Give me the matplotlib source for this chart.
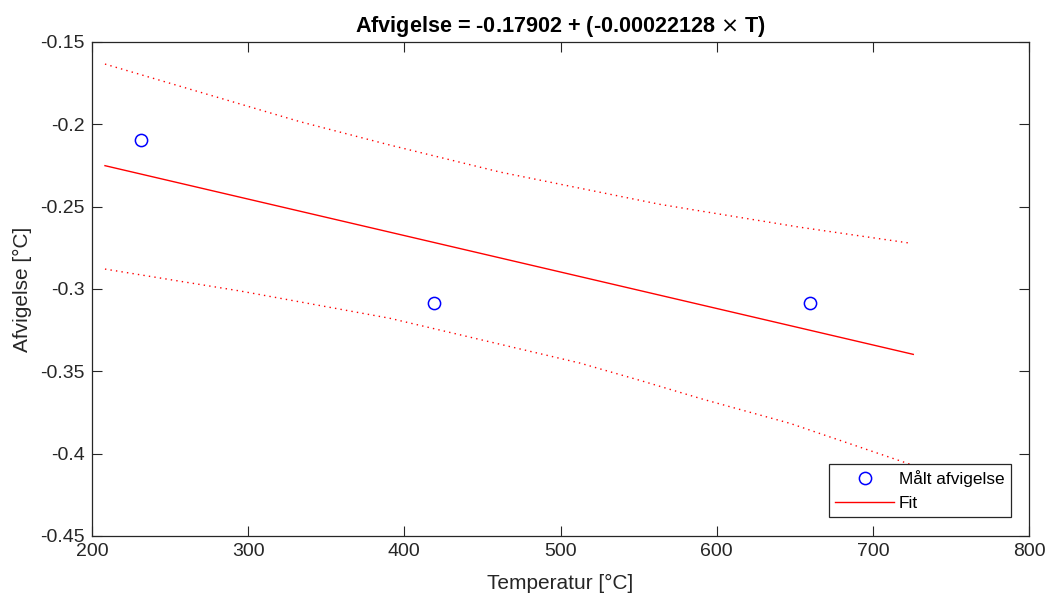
import matplotlib
matplotlib.use('Agg')
import matplotlib.pyplot as plt

# measured points
temp = [231.4, 419.0, 659.8]
afv = [-0.2097, -0.3083, -0.3087]

# fit line (endpoints)
fit_t = [208.3, 725.9]
fit_y = [-0.2251, -0.3397]

# prediction bounds
up_t = [208.3, 333.2, 390.8, 461.3, 563.7, 653.4, 724.9]
up_y = [-0.1634, -0.1984, -0.2126, -0.2290, -0.2486, -0.2625, -0.2723]
lo_t = [208.3, 294.8, 390.8, 512.5, 552.0, 591.4, 647.0, 725.0]
lo_y = [-0.2879, -0.3012, -0.3178, -0.3450, -0.3558, -0.3670, -0.3816, -0.4068]

xticks = [200, 300, 400, 500, 600, 700, 800]
yticks = [-0.45, -0.4, -0.35, -0.3, -0.25, -0.2, -0.15]

plt.rcParams['font.family'] = ['Liberation Sans', 'DejaVu Sans']
dark = '#262626'

fig = plt.figure(figsize=(10.45, 5.95), dpi=100)
ax = fig.add_axes([92 / 1045, 59 / 595, 937 / 1045, 494 / 595])

ax.plot(temp, afv, 'o', color='blue', markerfacecolor='none', markersize=8.8,
        markeredgewidth=1.1, label='Målt afvigelse')
ax.plot(fit_t, fit_y, '-', color='red', linewidth=1.0, label='Fit')
ax.plot(up_t, up_y, color='red', linewidth=1.0, linestyle=(0, (1, 3)))
ax.plot(lo_t, lo_y, color='red', linewidth=1.0, linestyle=(0, (1, 3)))

ax.set_xlim(200, 800)
ax.set_ylim(-0.45, -0.15)
ax.set_xticks(xticks)
ax.set_xticklabels([str(t) for t in xticks])
ax.set_yticks(yticks)
ax.set_yticklabels(['-0.45', '-0.4', '-0.35', '-0.3', '-0.25', '-0.2', '-0.15'])
ax.tick_params(direction='in', length=7.2, width=0.8, colors=dark, labelsize=14,
               top=True, right=True, pad=5)
for s in ax.spines.values():
    s.set_color(dark)
    s.set_linewidth(0.9)

ax.set_xlabel('Temperatur [°C]', fontsize=15, color=dark, labelpad=10)
ax.set_ylabel('Afvigelse [°C]', fontsize=15, color=dark, labelpad=6)
ax.set_title('Afvigelse = -0.17902 + (-0.00022128 $\\times$ T)', fontsize=15.6,
             fontweight='bold', pad=7)

leg = ax.legend(loc='lower right', bbox_to_anchor=(1010.7 / 1045, 77.7 / 595),
                bbox_transform=fig.transFigure, borderaxespad=0, fancybox=False,
                edgecolor=dark, framealpha=1, fontsize=12.4, handlelength=3.4,
                handletextpad=0.3, borderpad=0.35, labelspacing=0.55)
leg.get_frame().set_linewidth(0.9)

fig.savefig('out.png', dpi=100)
